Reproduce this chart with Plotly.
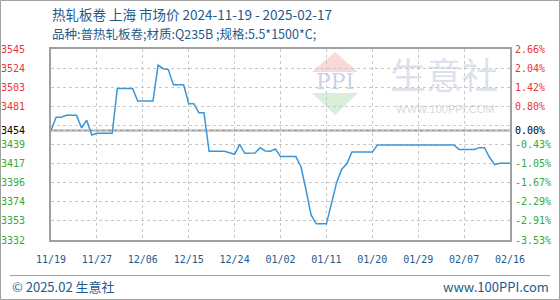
import plotly.graph_objects as go

# ---------------- data ----------------
days = [0, 1, 2, 3, 5, 6, 7, 8, 9, 12, 13, 16, 17, 20, 21, 22, 23, 24, 26, 27, 28, 29, 30,
        31, 34, 35, 36, 37, 38, 40, 41, 42, 43, 44, 45, 48, 49, 50, 51, 52, 54, 55, 56, 57,
        58, 59, 63, 64, 79, 80, 83, 84, 85, 86, 87, 88, 90]
prices = [3454, 3469, 3469, 3471, 3471, 3457, 3465.5, 3449, 3451, 3451, 3501, 3501, 3487, 3487,
          3527, 3523, 3522, 3505, 3505, 3484, 3484, 3474, 3474,
          3431, 3431, 3429, 3427.6, 3438.7, 3428.7, 3429, 3435, 3431.3, 3431, 3433.5, 3425, 3425,
          3414, 3388, 3360, 3350, 3350, 3373, 3396, 3411, 3417, 3430, 3430, 3438, 3438, 3433,
          3433, 3435, 3435, 3424, 3416, 3417.5, 3417.5]

tick_days = [0, 9, 18, 27, 36, 45, 54, 63, 72, 81, 90]
tick_labels = ["11/19", "11/27", "12/06", "12/15", "12/24", "01/02", "01/11", "01/20",
               "01/29", "02/07", "02/16"]

y_min, y_max, base_price = 3332, 3545, 3454
left_labels = ["3332", "3353", "3374", "3396", "3417", "3439", "", "3481", "3503", "3524", "3545"]
right_labels = ["-3.53%", "-2.91%", "-2.29%", "-1.67%", "-1.05%", "-0.43%", "",
                "0.80%", "1.42%", "2.04%", "2.66%"]
base_left_label = "3454"
base_right_label = "0.00%"

title1 = "热轧板卷 上海 市场价 2024-11-19 - 2025-02-17"
title2 = "品种:普热轧板卷;材质:Q235B ;规格:5.5*1500*C;"
footer_left = "© 2025.02 生意社"
footer_right = "www.100PPI.com"

# ---------------- styling ----------------
RED, GREEN, BLACK = "#ee3333", "#33aa33", "#000000"
BLUE_TXT = "#1e5a8c"
GRID = "#c8c8c8"
FRAME = "#a0a0a0"

L, R, T, B = 51, 50, 49, 60
W, H = 560 - L - R, 300 - T - B


def px(x):
    return (x - L) / W


def py(y):
    return (300 - B - y) / H


n = len(left_labels)
step = (y_max - y_min) / (n - 1)
grid_vals = [y_min + k * step for k in range(n)]


def colored(text, value):
    if text == "":
        return ""
    c = RED if value > base_price else GREEN
    return f"<span style='color:{c}'>{text}</span>"


lt_vals = grid_vals + [base_price]
lt_text = [colored(t, v) for t, v in zip(left_labels, grid_vals)] + \
          [f"<span style='color:{BLACK}'>{base_left_label}</span>"]
rt_text = [colored(t, v) for t, v in zip(right_labels, grid_vals)] + \
          [f"<span style='color:{BLACK}'>{base_right_label}</span>"]

fig = go.Figure()
fig.add_trace(go.Scatter(x=days, y=prices, mode="lines",
                         line=dict(color="#3a96d8", width=1.5),
                         hoverinfo="skip", showlegend=False))
fig.add_trace(go.Scatter(x=[days[0]], y=[prices[0]], yaxis="y2", mode="markers",
                         marker=dict(opacity=0), hoverinfo="skip", showlegend=False))

tick_font = dict(family="DejaVu Sans Mono", size=10, color=BLUE_TXT)

fig.update_layout(
    width=560, height=300,
    margin=dict(l=L, r=R, t=T, b=B, pad=0),
    paper_bgcolor="white", plot_bgcolor="white",
    xaxis=dict(range=[0, 90], tickvals=tick_days, ticktext=tick_labels,
               showgrid=True, gridcolor=GRID, griddash="3px,3px", gridwidth=1,
               showline=True, linecolor=FRAME, linewidth=2, mirror=True,
               ticks="", tickfont=tick_font, ticklabelstandoff=9, zeroline=False,
               automargin=False, fixedrange=True),
    yaxis=dict(range=[y_min, y_max], tickvals=lt_vals, ticktext=lt_text,
               showgrid=True, gridcolor=GRID, griddash="3px,3px", gridwidth=1,
               showline=True, linecolor=FRAME, linewidth=2, mirror=True,
               ticks="", tickfont=dict(family="DejaVu Sans Mono", size=10),
               ticklabelstandoff=22, zeroline=False, automargin=False, fixedrange=True),
    yaxis2=dict(range=[y_min, y_max], tickvals=lt_vals, ticktext=rt_text,
                overlaying="y", side="right", showgrid=False, showline=False,
                ticks="", tickfont=dict(family="DejaVu Sans Mono", size=10),
                ticklabelstandoff=4, zeroline=False, automargin=False, fixedrange=True),
)

shapes = []
# watermark logo (below grid)
shapes.append(dict(type="path", xref="paper", yref="paper", layer="below",
                   path=f"M {px(335)} {py(52)} L {px(358)} {py(72)} L {px(312)} {py(72)} Z",
                   fillcolor="#f8d8d8", line=dict(width=0)))
shapes.append(dict(type="path", xref="paper", yref="paper", layer="below",
                   path=f"M {px(312)} {py(93)} L {px(358)} {py(93)} L {px(335)} {py(115)} Z",
                   fillcolor="#d8efdb", line=dict(width=0)))
# base price line
shapes.append(dict(type="line", xref="paper", yref="y", x0=0, x1=1, y0=base_price, y1=base_price,
                   layer="between", line=dict(color="#999999", width=2)))
# footer separator
shapes.append(dict(type="line", xref="paper", yref="paper", x0=px(10), x1=px(550),
                   y0=py(275.5), y1=py(275.5), line=dict(color="#a0a0a0", width=1)))
# outer border
shapes.append(dict(type="rect", xref="paper", yref="paper", x0=px(0.5), x1=px(559.5),
                   y0=py(0.5), y1=py(299.5), line=dict(color="#a0a0a0", width=1)))
fig.update_layout(shapes=shapes)

ann = []
ann.append(dict(text="PPI", x=px(335), y=py(81), xref="paper", yref="paper",
                showarrow=False, xanchor="center", yanchor="middle",
                font=dict(family="DejaVu Serif", size=22, color="rgba(170,182,208,0.6)")))
ann.append(dict(text="生意社", x=px(444), y=py(73), xref="paper", yref="paper",
                showarrow=False, xanchor="center", yanchor="middle",
                font=dict(family="Noto Sans CJK SC", size=36, color="rgba(190,200,220,0.55)")))
ann.append(dict(text="WWW.100PPI.COM", x=px(445), y=py(109), xref="paper", yref="paper",
                showarrow=False, xanchor="center", yanchor="middle",
                font=dict(family="Liberation Sans", size=11, color="rgba(200,200,200,0.7)")))
ann.append(dict(text=title1, x=px(50), y=py(14), xref="paper", yref="paper",
                showarrow=False, xanchor="left", yanchor="middle",
                font=dict(family="Noto Sans CJK SC", size=13.5, color=BLUE_TXT)))
ann.append(dict(text=title2, x=px(50), y=py(33.5), xref="paper", yref="paper",
                showarrow=False, xanchor="left", yanchor="middle",
                font=dict(family="Noto Sans CJK SC", size=12.5, color=BLUE_TXT)))
ann.append(dict(text=footer_left, x=px(10), y=py(286), xref="paper", yref="paper",
                showarrow=False, xanchor="left", yanchor="middle",
                font=dict(family="Noto Sans CJK SC", size=13, color=BLUE_TXT)))
ann.append(dict(text=footer_right, x=px(551), y=py(286), xref="paper", yref="paper",
                showarrow=False, xanchor="right", yanchor="middle",
                font=dict(family="Noto Sans CJK SC", size=13, color=BLUE_TXT)))
fig.update_layout(annotations=ann)

fig.write_html("out.html", config={"displayModeBar": False})
